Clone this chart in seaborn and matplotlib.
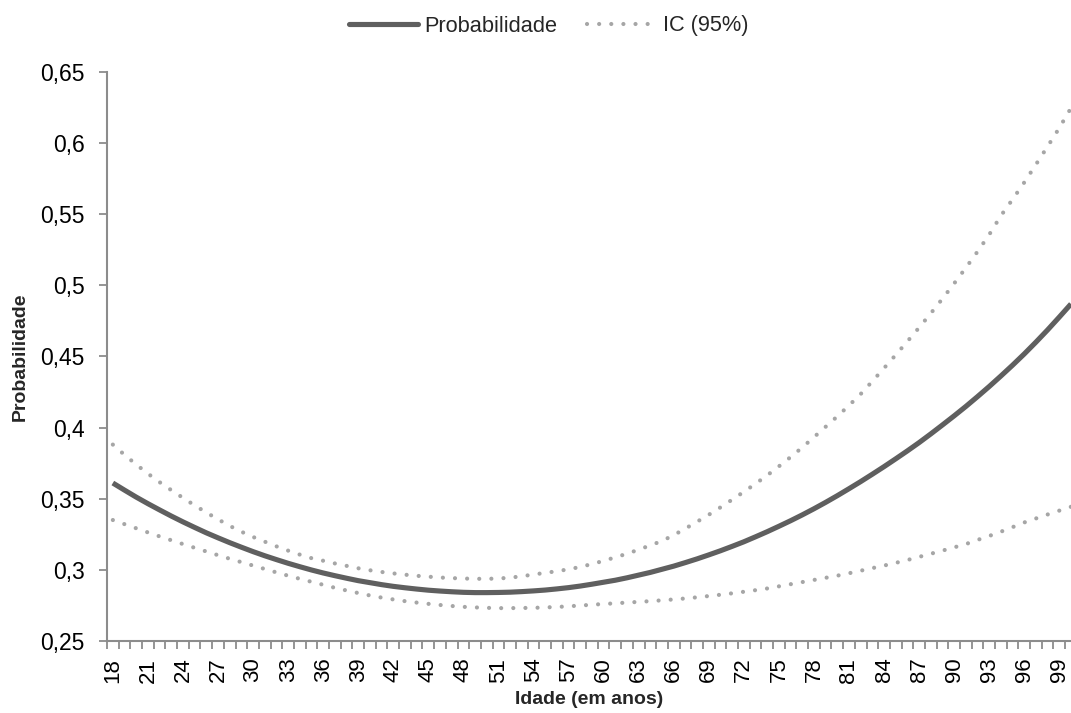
import numpy as np
import pandas as pd
import matplotlib
matplotlib.use("Agg")
import matplotlib.pyplot as plt
from matplotlib.ticker import FixedLocator, FuncFormatter
from matplotlib.lines import Line2D
import seaborn as sns

# ages 18..100 (one category per year)
idade = list(range(18, 101))

probabilidade = [
    0.3610, 0.3560, 0.3511, 0.3465, 0.3421, 0.3378, 0.3337, 0.3298, 0.3260, 0.3225,
    0.3191, 0.3159, 0.3128, 0.3099, 0.3072, 0.3046, 0.3022, 0.2999, 0.2978, 0.2959,
    0.2941, 0.2924, 0.2910, 0.2896, 0.2884, 0.2874, 0.2865, 0.2857, 0.2851, 0.2846,
    0.2842, 0.2840, 0.2840, 0.2841, 0.2843, 0.2847, 0.2852, 0.2858, 0.2866, 0.2875,
    0.2886, 0.2899, 0.2913, 0.2927, 0.2944, 0.2963, 0.2982, 0.3004, 0.3026, 0.3051,
    0.3077, 0.3105, 0.3134, 0.3165, 0.3197, 0.3232, 0.3268, 0.3306, 0.3345, 0.3386,
    0.3429, 0.3474, 0.3521, 0.3570, 0.3620, 0.3672, 0.3725, 0.3780, 0.3836, 0.3894,
    0.3955, 0.4018, 0.4082, 0.4148, 0.4217, 0.4288, 0.4362, 0.4438, 0.4517, 0.4600,
    0.4686, 0.4776, 0.4868,
]

ic_sup = [
    0.3880, 0.3808, 0.3740, 0.3676, 0.3616, 0.3560, 0.3506, 0.3453, 0.3403, 0.3355,
    0.3309, 0.3268, 0.3231, 0.3198, 0.3165, 0.3135, 0.3107, 0.3082, 0.3064, 0.3045,
    0.3028, 0.3011, 0.2997, 0.2985, 0.2975, 0.2966, 0.2958, 0.2952, 0.2946, 0.2942,
    0.2939, 0.2937, 0.2937, 0.2939, 0.2945, 0.2955, 0.2967, 0.2979, 0.2990, 0.3004,
    0.3020, 0.3041, 0.3063, 0.3088, 0.3113, 0.3142, 0.3172, 0.3203, 0.3244, 0.3290,
    0.3338, 0.3387, 0.3439, 0.3493, 0.3548, 0.3605, 0.3664, 0.3727, 0.3792, 0.3860,
    0.3932, 0.4005, 0.4078, 0.4155, 0.4235, 0.4325, 0.4417, 0.4510, 0.4605, 0.4702,
    0.4802, 0.4905, 0.5012, 0.5122, 0.5236, 0.5355, 0.5488, 0.5603, 0.5722, 0.5848,
    0.5975, 0.6105, 0.6245,
]

ic_inf = [
    0.3350, 0.3321, 0.3292, 0.3263, 0.3235, 0.3208, 0.3181, 0.3155, 0.3129, 0.3103,
    0.3078, 0.3054, 0.3030, 0.3006, 0.2982, 0.2959, 0.2937, 0.2916, 0.2895, 0.2874,
    0.2855, 0.2837, 0.2820, 0.2805, 0.2792, 0.2780, 0.2770, 0.2761, 0.2753, 0.2746,
    0.2740, 0.2736, 0.2733, 0.2731, 0.2731, 0.2732, 0.2733, 0.2736, 0.2739, 0.2744,
    0.2749, 0.2755, 0.2760, 0.2765, 0.2770, 0.2775, 0.2780, 0.2786, 0.2792, 0.2799,
    0.2807, 0.2816, 0.2825, 0.2835, 0.2846, 0.2857, 0.2869, 0.2884, 0.2899, 0.2914,
    0.2929, 0.2944, 0.2959, 0.2976, 0.2994, 0.3012, 0.3030, 0.3049, 0.3069, 0.3091,
    0.3113, 0.3135, 0.3158, 0.3181, 0.3210, 0.3238, 0.3268, 0.3300, 0.3333, 0.3361,
    0.3389, 0.3416, 0.3443,
]

y_ticks = [0.25, 0.3, 0.35, 0.4, 0.45, 0.5, 0.55, 0.6, 0.65]
x_labels = list(range(18, 100, 3))

df = pd.DataFrame({"idade": idade, "prob": probabilidade,
                   "sup": ic_sup, "inf": ic_inf})

sns.set_theme(style="white")
plt.rcParams["font.family"] = ["Liberation Sans", "DejaVu Sans"]

dark = "#5f5f5f"
light = "#a6a6a6"
axis_col = "#8c8c8c"

fig = plt.figure(figsize=(10.71, 7.13), dpi=100)
ax = fig.add_axes([107 / 1071, 1 - 641 / 713, 1 - 107 / 1071, (641 - 71.7) / 713])

dots = (0, (0.01, 2.9))
sns.lineplot(data=df, x="idade", y="sup", ax=ax, color=light, linewidth=3.0,
             linestyle=dots, dash_capstyle="round")
sns.lineplot(data=df, x="idade", y="inf", ax=ax, color=light, linewidth=3.0,
             linestyle=dots, dash_capstyle="round")
sns.lineplot(data=df, x="idade", y="prob", ax=ax, color=dark, linewidth=3.7,
             solid_capstyle="butt")

ax.set_xlim(17.5, 100)
ax.set_ylim(0.25, 0.65)

# labels at category centres, tick marks between categories
ax.xaxis.set_major_locator(FixedLocator(x_labels))
ax.xaxis.set_minor_locator(FixedLocator(np.arange(17.5, 100, 1.0)))
ax.set_xticklabels([str(v) for v in x_labels], rotation=90)
ax.tick_params(axis="x", which="major", length=0, pad=12, labelsize=16, colors="black")
ax.tick_params(axis="x", which="minor", length=6, width=1.3, color=axis_col,
               direction="out", bottom=True)

ax.yaxis.set_major_locator(FixedLocator(y_ticks))
ax.yaxis.set_major_formatter(FuncFormatter(lambda v, p: f"{v:g}".replace(".", ",")))
ax.tick_params(axis="y", length=6, width=1.3, color=axis_col, direction="out",
               left=True, pad=10, labelsize=16.5, labelcolor="black")

for side in ["top", "right"]:
    ax.spines[side].set_visible(False)
for side in ["left", "bottom"]:
    ax.spines[side].set_color(axis_col)
    ax.spines[side].set_linewidth(1.5)

ax.set_xlabel("Idade (em anos)", fontsize=14, fontweight="bold", labelpad=6)
ax.set_ylabel("Probabilidade", fontsize=14, fontweight="bold", labelpad=8)
ax.grid(False)

handles = [
    Line2D([], [], color=dark, linewidth=3.7, solid_capstyle="round"),
    Line2D([], [], color=light, linewidth=3.0, linestyle=dots, dash_capstyle="round"),
]
fig.legend(handles, ["Probabilidade", "IC (95%)"], loc="center",
           bbox_to_anchor=(0.512, 1 - 26 / 713), ncol=2, frameon=False,
           fontsize=15.7, handlelength=3.2, handletextpad=0.25, columnspacing=1.4)

fig.savefig("out.png", dpi=100)
